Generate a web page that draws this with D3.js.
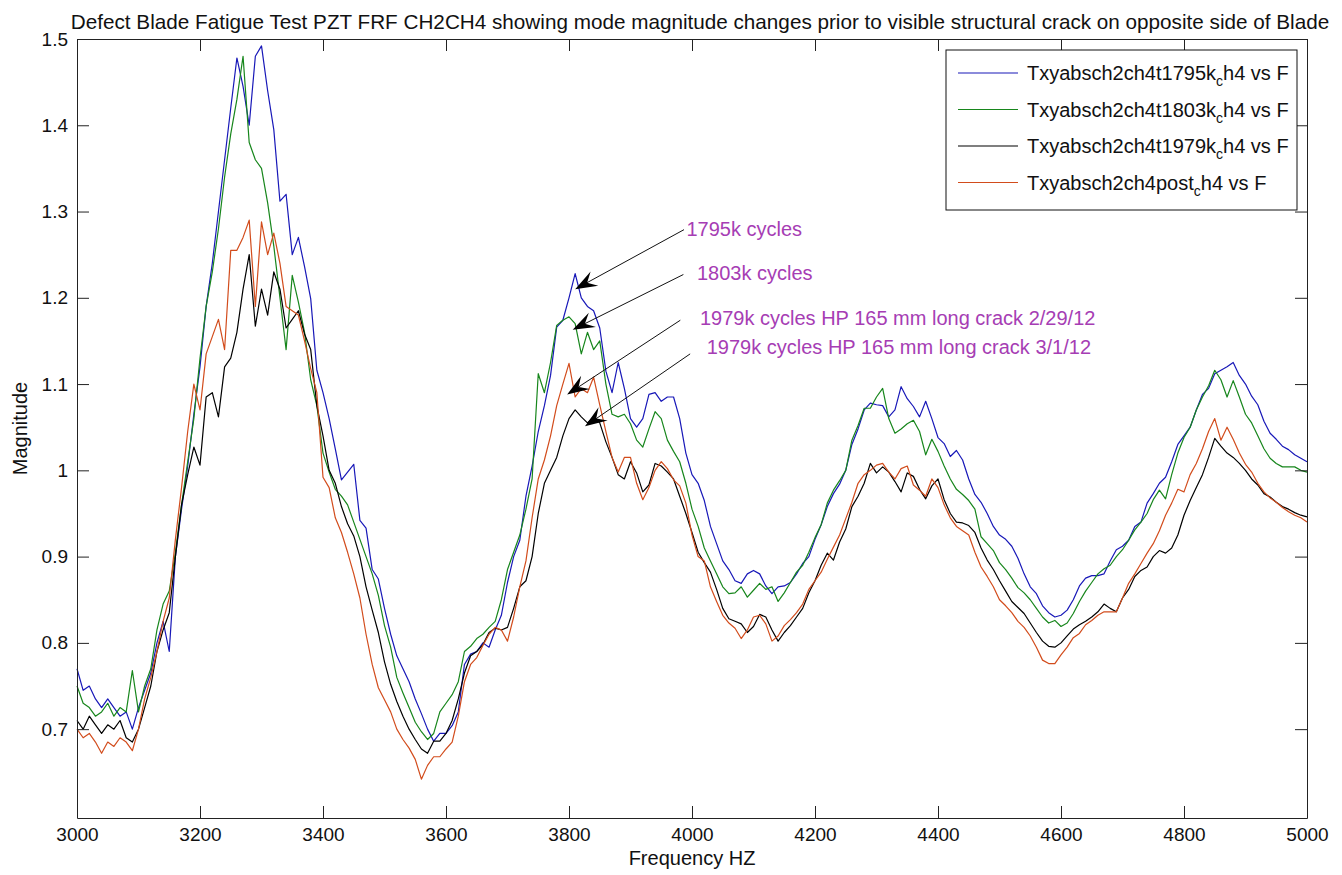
<!DOCTYPE html>
<html>
<head>
<meta charset="utf-8">
<script src="https://cdn.jsdelivr.net/npm/d3@7"></script>
<style>
  body { margin: 0; background: #fff; }
  svg text { font-family: "Liberation Sans", Arial, sans-serif; }
</style>
</head>
<body>
<div id="chart"></div>
<script>
// sample grid of the FRF (Hz)
const freqs = d3.range(3000, 5001, 10);

const mag1795 = [
  0.770,0.745,0.750,0.735,0.725,0.735,0.725,0.715,0.720,0.700,
  0.725,0.745,0.765,0.800,0.825,0.790,0.900,0.955,1.005,1.065,
  1.120,1.190,1.240,1.300,1.360,1.420,1.478,1.445,1.400,1.480,
  1.492,1.440,1.395,1.312,1.320,1.250,1.270,1.236,1.199,1.116,
  1.090,1.060,1.025,0.989,0.998,1.007,0.942,0.933,0.885,0.874,
  0.840,0.810,0.785,0.770,0.755,0.735,0.718,0.700,0.686,0.695,
  0.695,0.704,0.720,0.775,0.787,0.790,0.800,0.795,0.815,0.832,
  0.870,0.900,0.919,0.970,1.005,1.045,1.075,1.110,1.166,1.174,
  1.200,1.228,1.200,1.190,1.185,1.165,1.115,1.090,1.125,1.095,
  1.060,1.050,1.060,1.088,1.090,1.080,1.085,1.085,1.060,1.020,
  0.995,0.985,0.965,0.935,0.915,0.895,0.885,0.872,0.869,0.880,
  0.884,0.880,0.866,0.857,0.865,0.866,0.870,0.880,0.892,0.900,
  0.920,0.937,0.958,0.973,0.984,1.000,1.030,1.048,1.070,1.078,
  1.076,1.075,1.062,1.070,1.097,1.083,1.074,1.062,1.080,1.060,
  1.038,1.031,1.016,1.023,1.012,0.990,0.972,0.963,0.950,0.935,
  0.925,0.920,0.912,0.898,0.880,0.865,0.857,0.843,0.835,0.830,
  0.832,0.838,0.850,0.866,0.875,0.878,0.878,0.880,0.895,0.908,
  0.912,0.919,0.935,0.940,0.962,0.973,0.985,0.992,1.010,1.030,
  1.040,1.050,1.070,1.088,1.095,1.112,1.116,1.120,1.125,1.110,
  1.100,1.086,1.076,1.057,1.043,1.036,1.028,1.024,1.018,1.014,
  1.010
];

const mag1803 = [
  0.750,0.730,0.725,0.715,0.720,0.730,0.715,0.725,0.720,0.768,
  0.720,0.750,0.770,0.815,0.845,0.860,0.905,0.960,1.010,1.060,
  1.130,1.190,1.230,1.280,1.340,1.390,1.430,1.480,1.380,1.360,
  1.350,1.310,1.260,1.200,1.140,1.226,1.195,1.160,1.105,1.075,
  1.020,0.998,0.978,0.970,0.960,0.940,0.920,0.900,0.880,0.855,
  0.820,0.795,0.760,0.742,0.725,0.708,0.697,0.688,0.695,0.720,
  0.730,0.740,0.755,0.790,0.796,0.805,0.810,0.818,0.825,0.850,
  0.885,0.905,0.925,0.955,0.990,1.112,1.090,1.125,1.168,1.174,
  1.178,1.170,1.135,1.160,1.140,1.150,1.100,1.065,1.062,1.065,
  1.054,1.035,1.027,1.048,1.068,1.060,1.035,1.022,1.010,0.985,
  0.955,0.935,0.910,0.895,0.880,0.865,0.857,0.858,0.865,0.853,
  0.861,0.869,0.862,0.865,0.848,0.858,0.870,0.882,0.890,0.905,
  0.922,0.937,0.962,0.977,0.988,1.000,1.035,1.052,1.072,1.072,
  1.085,1.095,1.060,1.043,1.048,1.054,1.058,1.045,1.018,1.036,
  1.022,1.005,0.990,0.978,0.972,0.965,0.955,0.923,0.915,0.907,
  0.893,0.885,0.875,0.864,0.858,0.850,0.840,0.830,0.823,0.826,
  0.819,0.823,0.834,0.848,0.860,0.870,0.880,0.886,0.890,0.900,
  0.908,0.919,0.931,0.940,0.950,0.966,0.977,0.967,0.995,1.020,
  1.038,1.050,1.070,1.085,1.098,1.116,1.105,1.085,1.104,1.085,
  1.065,1.055,1.040,1.025,1.014,1.008,1.004,1.004,1.004,1.000,
  0.998
];

const mag1979 = [
  0.710,0.700,0.715,0.705,0.695,0.705,0.700,0.710,0.690,0.685,
  0.700,0.725,0.750,0.790,0.815,0.835,0.900,0.960,0.995,1.027,
  1.006,1.085,1.090,1.062,1.120,1.130,1.160,1.210,1.250,1.167,
  1.210,1.180,1.230,1.210,1.165,1.175,1.185,1.158,1.140,1.075,
  1.040,1.000,0.985,0.958,0.938,0.924,0.900,0.865,0.838,0.812,
  0.778,0.752,0.732,0.715,0.700,0.688,0.677,0.672,0.686,0.686,
  0.695,0.710,0.735,0.765,0.785,0.790,0.798,0.812,0.817,0.815,
  0.818,0.840,0.865,0.872,0.900,0.950,0.985,1.000,1.015,1.040,
  1.060,1.070,1.062,1.055,1.062,1.055,1.033,1.015,0.995,0.990,
  1.010,0.997,0.975,0.983,1.008,1.005,0.998,0.990,0.970,0.950,
  0.928,0.905,0.893,0.882,0.862,0.840,0.828,0.825,0.822,0.812,
  0.819,0.833,0.830,0.815,0.802,0.812,0.820,0.830,0.840,0.858,
  0.872,0.890,0.904,0.896,0.917,0.932,0.958,0.970,0.985,1.008,
  0.997,1.004,0.998,0.987,0.975,0.997,0.993,0.978,0.967,0.982,
  0.990,0.966,0.950,0.940,0.939,0.936,0.928,0.910,0.896,0.885,
  0.872,0.860,0.848,0.841,0.834,0.823,0.812,0.802,0.796,0.795,
  0.800,0.808,0.816,0.821,0.825,0.830,0.836,0.845,0.840,0.836,
  0.852,0.862,0.877,0.884,0.888,0.900,0.907,0.904,0.910,0.925,
  0.948,0.965,0.980,0.995,1.015,1.037,1.028,1.020,1.015,1.008,
  1.000,0.990,0.983,0.973,0.969,0.963,0.958,0.955,0.951,0.948,
  0.946
];

const magPost = [
  0.700,0.690,0.695,0.685,0.672,0.685,0.680,0.690,0.685,0.675,
  0.700,0.735,0.760,0.790,0.825,0.852,0.920,0.980,1.045,1.100,
  1.070,1.135,1.155,1.175,1.140,1.255,1.255,1.270,1.290,1.190,
  1.288,1.250,1.275,1.240,1.190,1.185,1.180,1.150,1.118,1.090,
  0.992,0.980,0.945,0.928,0.905,0.880,0.852,0.810,0.775,0.748,
  0.734,0.720,0.700,0.688,0.678,0.665,0.642,0.658,0.668,0.668,
  0.677,0.685,0.715,0.755,0.775,0.783,0.797,0.810,0.818,0.815,
  0.802,0.830,0.865,0.895,0.945,0.990,1.012,1.040,1.075,1.100,
  1.124,1.085,1.095,1.090,1.108,1.076,1.045,1.015,0.998,1.015,
  1.015,0.985,0.966,0.980,1.000,1.010,1.002,0.989,0.982,0.962,
  0.925,0.900,0.895,0.865,0.848,0.832,0.823,0.817,0.805,0.815,
  0.830,0.832,0.822,0.802,0.808,0.820,0.827,0.835,0.845,0.862,
  0.872,0.882,0.897,0.911,0.925,0.944,0.963,0.985,0.995,1.000,
  1.006,1.008,0.998,0.990,1.002,1.005,0.983,0.977,0.970,0.990,
  0.980,0.960,0.945,0.935,0.930,0.925,0.905,0.888,0.877,0.865,
  0.850,0.843,0.835,0.825,0.818,0.808,0.795,0.780,0.776,0.776,
  0.786,0.795,0.806,0.811,0.821,0.826,0.832,0.836,0.836,0.836,
  0.852,0.869,0.880,0.892,0.904,0.915,0.930,0.948,0.962,0.978,
  0.975,0.995,1.008,1.025,1.045,1.060,1.035,1.050,1.036,1.020,
  1.007,0.998,0.985,0.975,0.968,0.963,0.957,0.952,0.948,0.945,
  0.940
];

const seriesNames = ["Txyabsch2ch4t1795k", "Txyabsch2ch4t1803k", "Txyabsch2ch4t1979k", "Txyabsch2ch4post"];
const seriesValues = [mag1795, mag1803, mag1979, magPost];
const seriesColors = ["#1818b8", "#17861c", "#000000", "#d24c1c"];

const xTicks = [3000, 3200, 3400, 3600, 3800, 4000, 4200, 4400, 4600, 4800, 5000];
const yTicks = [0.7, 0.8, 0.9, 1.0, 1.1, 1.2, 1.3, 1.4, 1.5];

// arrow annotations: text anchor, arrow tail and arrow tip, in data units
const noteLabels = [
  "1795k cycles",
  "1803k cycles",
  "1979k cycles HP 165 mm long crack 2/29/12",
  "1979k cycles HP 165 mm long crack 3/1/12"
];
const noteText = [[3991, 1.280], [4008, 1.229], [4013, 1.177], [4024, 1.143]];
const noteTail = [[3987, 1.279], [3986, 1.227], [3981, 1.174], [3997, 1.135]];
const noteTip  = [[3810, 1.210], [3806, 1.163], [3797, 1.088], [3826, 1.051]];

const titleText = "Defect Blade Fatigue Test PZT FRF CH2CH4 showing mode magnitude changes prior to visible structural crack on opposite side of Blade";

const width = 1342, height = 875;
const margin = {top: 39, right: 35, bottom: 57, left: 77};
const plotW = width - margin.left - margin.right;
const plotH = height - margin.top - margin.bottom;

const svg = d3.select("#chart").append("svg")
    .attr("width", width)
    .attr("height", height);

svg.append("rect").attr("width", width).attr("height", height).attr("fill", "#fff");

const x = d3.scaleLinear().domain([3000, 5000]).range([margin.left, margin.left + plotW]);
const y = d3.scaleLinear().domain([0.597, 1.5]).range([margin.top + plotH, margin.top]);

// curves
const line = d3.line()
    .x((d, i) => x(freqs[i]))
    .y(d => y(d));

svg.append("g")
  .selectAll("path")
  .data(seriesValues)
  .join("path")
    .attr("fill", "none")
    .attr("stroke", (d, i) => seriesColors[i])
    .attr("stroke-width", 1.2)
    .attr("stroke-linejoin", "round")
    .attr("d", line);

// axes with inward ticks on all four sides (box on)
const tick = -12;
const axisStyle = g => {
  g.selectAll("path.domain").attr("stroke", "#222");
  g.selectAll(".tick line").attr("stroke", "#222");
  g.selectAll("text").attr("fill", "#111").style("font-size", "19px");
};

svg.append("g")
    .attr("transform", `translate(0,${margin.top + plotH})`)
    .call(d3.axisBottom(x).tickValues(xTicks).tickSizeInner(tick).tickSizeOuter(0).tickPadding(10)
      .tickFormat(d3.format("d")))
    .call(axisStyle);

svg.append("g")
    .attr("transform", `translate(0,${margin.top})`)
    .call(d3.axisTop(x).tickValues(xTicks).tickSizeInner(tick).tickSizeOuter(0).tickFormat(""))
    .call(axisStyle);

svg.append("g")
    .attr("transform", `translate(${margin.left},0)`)
    .call(d3.axisLeft(y).tickValues(yTicks).tickSizeInner(tick).tickSizeOuter(0).tickPadding(9)
      .tickFormat(d => d === 1 ? "1" : d3.format(".1f")(d)))
    .call(axisStyle);

svg.append("g")
    .attr("transform", `translate(${margin.left + plotW},0)`)
    .call(d3.axisRight(y).tickValues(yTicks).tickSizeInner(tick).tickSizeOuter(0).tickFormat(""))
    .call(axisStyle);

// labels
svg.append("text")
    .attr("x", 700).attr("y", 29)
    .attr("text-anchor", "middle")
    .style("font-size", "20.7px")
    .attr("fill", "#111")
    .text(titleText);

svg.append("text")
    .attr("x", margin.left + plotW / 2).attr("y", 865)
    .attr("text-anchor", "middle")
    .style("font-size", "20px")
    .attr("fill", "#111")
    .text("Frequency HZ");

svg.append("text")
    .attr("transform", `translate(27,${margin.top + plotH / 2}) rotate(-90)`)
    .attr("text-anchor", "middle")
    .style("font-size", "20px")
    .attr("fill", "#111")
    .text("Magnitude");

// annotations
const noteColor = "#a63db4";
const notes = svg.append("g");
noteLabels.forEach((label, i) => {
  const [x0, y0] = [x(noteTail[i][0]), y(noteTail[i][1])];
  const [x1, y1] = [x(noteTip[i][0]), y(noteTip[i][1])];
  const ang = Math.atan2(y1 - y0, x1 - x0) * 180 / Math.PI;
  const headLen = 22, headW = 16;

  notes.append("line")
      .attr("x1", x0).attr("y1", y0)
      .attr("x2", x1 - headLen * 0.6 * Math.cos(ang * Math.PI / 180))
      .attr("y2", y1 - headLen * 0.6 * Math.sin(ang * Math.PI / 180))
      .attr("stroke", "#111")
      .attr("stroke-width", 1);

  notes.append("path")
      .attr("transform", `translate(${x1},${y1}) rotate(${ang})`)
      .attr("d", `M0,0 L${-headLen},${-headW / 2} L${-headLen * 0.62},0 L${-headLen},${headW / 2} Z`)
      .attr("fill", "#000");

  notes.append("text")
      .attr("x", x(noteText[i][0]))
      .attr("y", y(noteText[i][1]))
      .attr("dy", "0.35em")
      .style("font-size", "20px")
      .attr("fill", noteColor)
      .text(label);
});

// legend
const legend = svg.append("g");
legend.append("rect")
    .attr("x", 946).attr("y", 50)
    .attr("width", 351).attr("height", 160)
    .attr("fill", "#fff")
    .attr("stroke", "#111")
    .attr("stroke-width", 1);

seriesNames.forEach((name, i) => {
  const ly = 73 + i * 36.5;
  legend.append("line")
      .attr("x1", 958).attr("x2", 1018)
      .attr("y1", ly).attr("y2", ly)
      .attr("stroke", seriesColors[i])
      .attr("stroke-width", 1.2);
  const t = legend.append("text")
      .attr("x", 1027).attr("y", ly)
      .attr("dy", "0.35em")
      .style("font-size", "20px")
      .attr("fill", "#111");
  t.append("tspan").text(name);
  t.append("tspan").attr("dy", 6).style("font-size", "14px").text("c");
  t.append("tspan").attr("dy", -6).text("h4 vs F");
});
</script>
</body>
</html>
